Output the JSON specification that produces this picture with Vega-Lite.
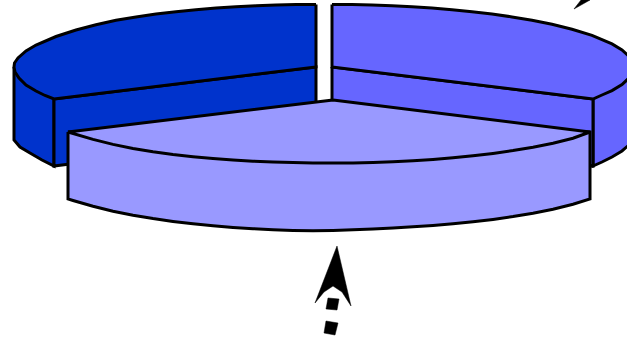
{
"$schema":"https://vega.github.io/schema/vega-lite/v6.json",
"width":627,"height":337,"padding":0,"autosize":{"type":"none"},
"background":"white","view":{"stroke":null},
"datasets":{
"pie":[
{"part":"a-side","tone":"dark","i":1,"x":14,"y":67},{"part":"a-side","tone":"dark","i":2,"x":14,"y":140},{"part":"a-side","tone":"dark","i":3,"x":20,"y":147},{"part":"a-side","tone":"dark","i":4,"x":30,"y":153},{"part":"a-side","tone":"dark","i":5,"x":42,"y":160},{"part":"a-side","tone":"dark","i":6,"x":54,"y":166},{"part":"a-side","tone":"dark","i":7,"x":54,"y":99},{"part":"a-side","tone":"dark","i":8,"x":14,"y":67},
{"part":"a-inner","tone":"dark","i":1,"x":54,"y":99},{"part":"a-inner","tone":"dark","i":2,"x":54,"y":166},{"part":"a-inner","tone":"dark","i":3,"x":316,"y":133},{"part":"a-inner","tone":"dark","i":4,"x":316,"y":67},{"part":"a-inner","tone":"dark","i":5,"x":54,"y":99},
{"part":"a-top","tone":"dark","i":1,"x":316,"y":4.5},{"part":"a-top","tone":"dark","i":2,"x":296,"y":4.5},{"part":"a-top","tone":"dark","i":3,"x":276,"y":5.1},{"part":"a-top","tone":"dark","i":4,"x":256,"y":5.8},{"part":"a-top","tone":"dark","i":5,"x":236,"y":6.8},{"part":"a-top","tone":"dark","i":6,"x":216,"y":8.1},{"part":"a-top","tone":"dark","i":7,"x":196,"y":9.7},{"part":"a-top","tone":"dark","i":8,"x":176,"y":11.7},{"part":"a-top","tone":"dark","i":9,"x":156,"y":14.1},{"part":"a-top","tone":"dark","i":10,"x":136,"y":16.9},{"part":"a-top","tone":"dark","i":11,"x":116,"y":20.3},{"part":"a-top","tone":"dark","i":12,"x":96,"y":24.8},{"part":"a-top","tone":"dark","i":13,"x":76,"y":30},{"part":"a-top","tone":"dark","i":14,"x":56,"y":36.5},{"part":"a-top","tone":"dark","i":15,"x":36,"y":45},{"part":"a-top","tone":"dark","i":16,"x":26,"y":50.9},{"part":"a-top","tone":"dark","i":17,"x":18,"y":58},{"part":"a-top","tone":"dark","i":18,"x":14.5,"y":63},{"part":"a-top","tone":"dark","i":19,"x":14,"y":67},{"part":"a-top","tone":"dark","i":20,"x":15,"y":72},{"part":"a-top","tone":"dark","i":21,"x":19,"y":78},{"part":"a-top","tone":"dark","i":22,"x":26,"y":85},{"part":"a-top","tone":"dark","i":23,"x":36,"y":91},{"part":"a-top","tone":"dark","i":24,"x":45,"y":95.5},{"part":"a-top","tone":"dark","i":25,"x":54,"y":99},{"part":"a-top","tone":"dark","i":26,"x":316,"y":67},{"part":"a-top","tone":"dark","i":27,"x":316,"y":4.5},
{"part":"b-side","tone":"mid","i":1,"x":593,"y":99},{"part":"b-side","tone":"mid","i":2,"x":593,"y":166},{"part":"b-side","tone":"mid","i":3,"x":602,"y":162},{"part":"b-side","tone":"mid","i":4,"x":612,"y":157},{"part":"b-side","tone":"mid","i":5,"x":622,"y":151},{"part":"b-side","tone":"mid","i":6,"x":630,"y":144},{"part":"b-side","tone":"mid","i":7,"x":634,"y":137},{"part":"b-side","tone":"mid","i":8,"x":634,"y":67},{"part":"b-side","tone":"mid","i":9,"x":593,"y":99},
{"part":"b-inner","tone":"mid","i":1,"x":332,"y":67},{"part":"b-inner","tone":"mid","i":2,"x":332,"y":133},{"part":"b-inner","tone":"mid","i":3,"x":593,"y":166},{"part":"b-inner","tone":"mid","i":4,"x":593,"y":99},{"part":"b-inner","tone":"mid","i":5,"x":332,"y":67},
{"part":"b-top","tone":"mid","i":1,"x":332,"y":4.5},{"part":"b-top","tone":"mid","i":2,"x":352,"y":4.5},{"part":"b-top","tone":"mid","i":3,"x":372,"y":5.1},{"part":"b-top","tone":"mid","i":4,"x":392,"y":5.8},{"part":"b-top","tone":"mid","i":5,"x":412,"y":6.8},{"part":"b-top","tone":"mid","i":6,"x":432,"y":8.1},{"part":"b-top","tone":"mid","i":7,"x":452,"y":9.7},{"part":"b-top","tone":"mid","i":8,"x":472,"y":11.7},{"part":"b-top","tone":"mid","i":9,"x":492,"y":14.1},{"part":"b-top","tone":"mid","i":10,"x":512,"y":16.9},{"part":"b-top","tone":"mid","i":11,"x":532,"y":20.3},{"part":"b-top","tone":"mid","i":12,"x":552,"y":24.3},{"part":"b-top","tone":"mid","i":13,"x":572,"y":29.3},{"part":"b-top","tone":"mid","i":14,"x":592,"y":35.4},{"part":"b-top","tone":"mid","i":15,"x":612,"y":43.9},{"part":"b-top","tone":"mid","i":16,"x":622,"y":49.9},{"part":"b-top","tone":"mid","i":17,"x":630,"y":57.3},{"part":"b-top","tone":"mid","i":18,"x":634,"y":67},{"part":"b-top","tone":"mid","i":19,"x":630,"y":77},{"part":"b-top","tone":"mid","i":20,"x":622,"y":84.6},{"part":"b-top","tone":"mid","i":21,"x":612,"y":90.6},{"part":"b-top","tone":"mid","i":22,"x":602,"y":95},{"part":"b-top","tone":"mid","i":23,"x":593,"y":99},{"part":"b-top","tone":"mid","i":24,"x":332,"y":67},{"part":"b-top","tone":"mid","i":25,"x":332,"y":4.5},
{"part":"c-front","tone":"light","i":1,"x":68,"y":132},{"part":"c-front","tone":"light","i":2,"x":68,"y":199},{"part":"c-front","tone":"light","i":3,"x":73,"y":200.5},{"part":"c-front","tone":"light","i":4,"x":93,"y":206.2},{"part":"c-front","tone":"light","i":5,"x":113,"y":211.2},{"part":"c-front","tone":"light","i":6,"x":133,"y":215.2},{"part":"c-front","tone":"light","i":7,"x":153,"y":218.6},{"part":"c-front","tone":"light","i":8,"x":173,"y":221.4},{"part":"c-front","tone":"light","i":9,"x":193,"y":223.8},{"part":"c-front","tone":"light","i":10,"x":213,"y":225.8},{"part":"c-front","tone":"light","i":11,"x":233,"y":227.4},{"part":"c-front","tone":"light","i":12,"x":253,"y":228.7},{"part":"c-front","tone":"light","i":13,"x":273,"y":229.7},{"part":"c-front","tone":"light","i":14,"x":293,"y":230.4},{"part":"c-front","tone":"light","i":15,"x":313,"y":230.8},{"part":"c-front","tone":"light","i":16,"x":333,"y":230.5},{"part":"c-front","tone":"light","i":17,"x":353,"y":229.8},{"part":"c-front","tone":"light","i":18,"x":373,"y":228.9},{"part":"c-front","tone":"light","i":19,"x":393,"y":227.9},{"part":"c-front","tone":"light","i":20,"x":413,"y":226.7},{"part":"c-front","tone":"light","i":21,"x":433,"y":225.4},{"part":"c-front","tone":"light","i":22,"x":453,"y":223.8},{"part":"c-front","tone":"light","i":23,"x":473,"y":221.8},{"part":"c-front","tone":"light","i":24,"x":493,"y":219.4},{"part":"c-front","tone":"light","i":25,"x":513,"y":216.6},{"part":"c-front","tone":"light","i":26,"x":533,"y":213.2},{"part":"c-front","tone":"light","i":27,"x":553,"y":209.2},{"part":"c-front","tone":"light","i":28,"x":573,"y":204.2},{"part":"c-front","tone":"light","i":29,"x":590,"y":199},{"part":"c-front","tone":"light","i":30,"x":590,"y":132},{"part":"c-front","tone":"light","i":31,"x":68,"y":132},
{"part":"c-top","tone":"light","i":1,"x":333,"y":100},{"part":"c-top","tone":"light","i":2,"x":590,"y":132},{"part":"c-top","tone":"light","i":3,"x":573,"y":138.2},{"part":"c-top","tone":"light","i":4,"x":553,"y":143.2},{"part":"c-top","tone":"light","i":5,"x":533,"y":147.2},{"part":"c-top","tone":"light","i":6,"x":513,"y":150.6},{"part":"c-top","tone":"light","i":7,"x":493,"y":153.4},{"part":"c-top","tone":"light","i":8,"x":473,"y":155.8},{"part":"c-top","tone":"light","i":9,"x":453,"y":157.8},{"part":"c-top","tone":"light","i":10,"x":433,"y":159.4},{"part":"c-top","tone":"light","i":11,"x":413,"y":160.7},{"part":"c-top","tone":"light","i":12,"x":393,"y":161.7},{"part":"c-top","tone":"light","i":13,"x":373,"y":162.4},{"part":"c-top","tone":"light","i":14,"x":353,"y":162.9},{"part":"c-top","tone":"light","i":15,"x":333,"y":163},{"part":"c-top","tone":"light","i":16,"x":313,"y":163},{"part":"c-top","tone":"light","i":17,"x":293,"y":162.6},{"part":"c-top","tone":"light","i":18,"x":273,"y":162},{"part":"c-top","tone":"light","i":19,"x":253,"y":161.2},{"part":"c-top","tone":"light","i":20,"x":233,"y":160},{"part":"c-top","tone":"light","i":21,"x":213,"y":158.6},{"part":"c-top","tone":"light","i":22,"x":193,"y":156.8},{"part":"c-top","tone":"light","i":23,"x":173,"y":154.6},{"part":"c-top","tone":"light","i":24,"x":153,"y":151.8},{"part":"c-top","tone":"light","i":25,"x":133,"y":148.4},{"part":"c-top","tone":"light","i":26,"x":113,"y":144.4},{"part":"c-top","tone":"light","i":27,"x":93,"y":139.4},{"part":"c-top","tone":"light","i":28,"x":68,"y":132},{"part":"c-top","tone":"light","i":29,"x":333,"y":100}
],
"arrows":[
{"part":"head","i":1,"x":337,"y":246},{"part":"head","i":2,"x":351,"y":306},{"part":"head","i":3,"x":342,"y":292},{"part":"head","i":4,"x":333,"y":286},{"part":"head","i":5,"x":324,"y":292},{"part":"head","i":6,"x":315,"y":303},{"part":"head","i":7,"x":337,"y":246},
{"part":"dash1","i":1,"x":328,"y":298},{"part":"dash1","i":2,"x":339,"y":299},{"part":"dash1","i":3,"x":337,"y":310},{"part":"dash1","i":4,"x":326,"y":309},{"part":"dash1","i":5,"x":328,"y":298},
{"part":"dash2","i":1,"x":326,"y":321},{"part":"dash2","i":2,"x":338,"y":323},{"part":"dash2","i":3,"x":335,"y":335},{"part":"dash2","i":4,"x":324,"y":333},{"part":"dash2","i":5,"x":326,"y":321},
{"part":"head2","i":1,"x":574,"y":9},{"part":"head2","i":2,"x":590,"y":0},{"part":"head2","i":3,"x":581,"y":0},{"part":"head2","i":4,"x":574,"y":9}
]
},
"layer":[
{"data":{"name":"pie"},
 "mark":{"type":"line","stroke":"black","strokeWidth":3,"strokeJoin":"miter","clip":true,"interpolate":"linear"},
 "encoding":{
  "x":{"field":"x","type":"quantitative","scale":{"domain":[0,627]},"axis":null},
  "y":{"field":"y","type":"quantitative","scale":{"domain":[337,0]},"axis":null},
  "detail":{"field":"part"},
  "order":{"field":"i"},
  "fill":{"field":"tone","type":"nominal","scale":{"domain":["dark","mid","light"],"range":["#0033cc","#6666ff","#9999ff"]},"legend":null}
 }},
{"data":{"name":"arrows"},
 "mark":{"type":"line","stroke":"black","fill":"black","strokeWidth":0.5,"strokeJoin":"miter","clip":true},
 "encoding":{
  "x":{"field":"x","type":"quantitative","scale":{"domain":[0,627]},"axis":null},
  "y":{"field":"y","type":"quantitative","scale":{"domain":[337,0]},"axis":null},
  "detail":{"field":"part"},
  "order":{"field":"i"}
 }}
]
}
